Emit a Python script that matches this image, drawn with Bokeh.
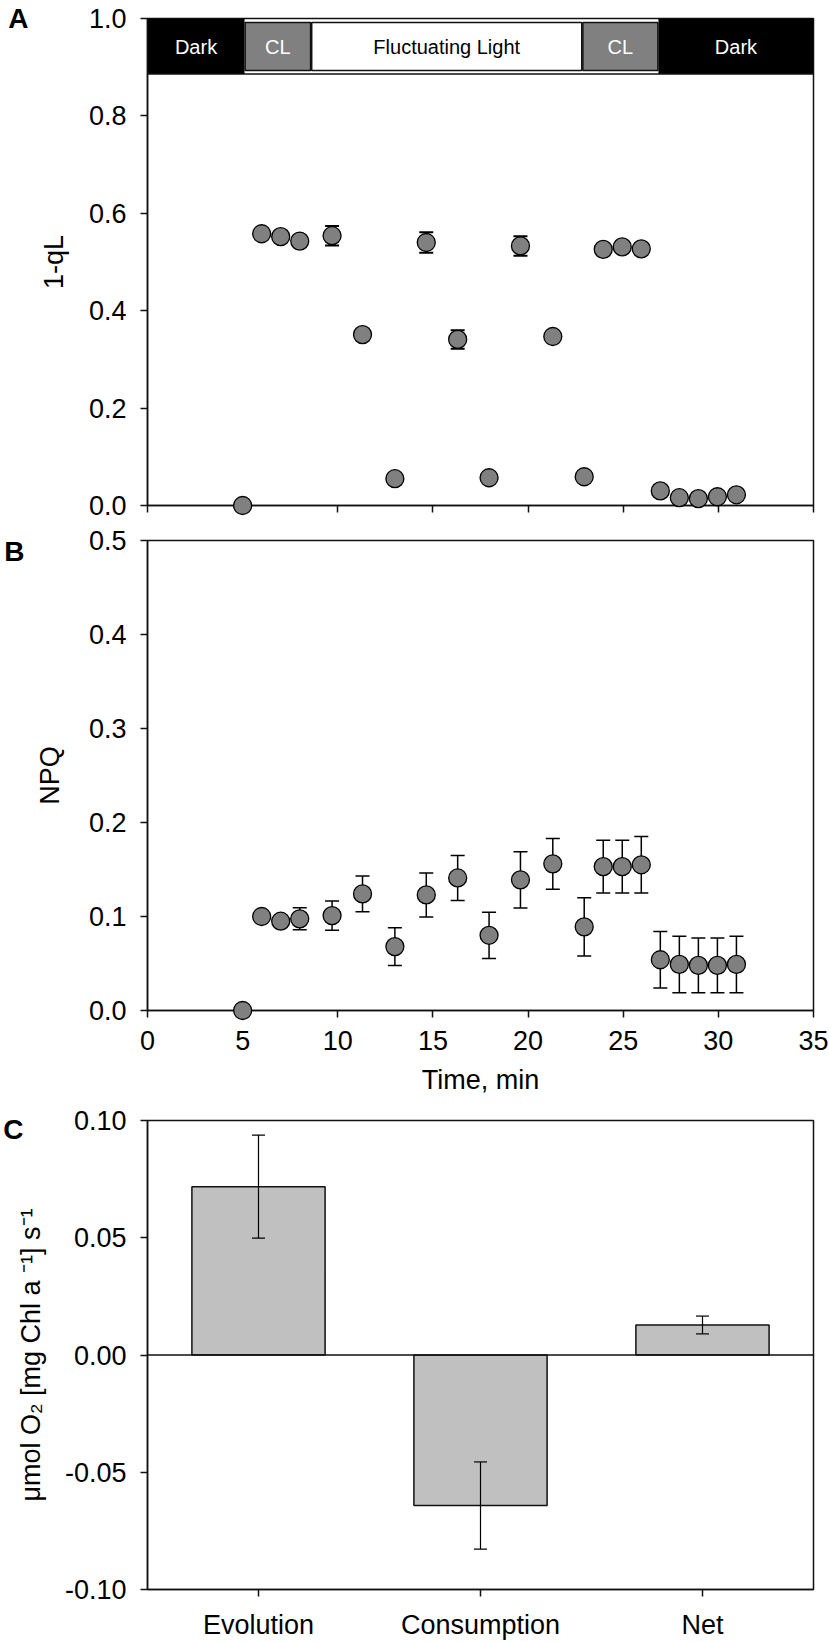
from bokeh.plotting import figure
from bokeh.models import (Range1d, FactorRange, ColumnDataSource, Whisker, TeeHead, LinearAxis,
                          Span, FixedTicker, CustomJSTickFormatter, NumeralTickFormatter)
from bokeh.layouts import column
from bokeh.core.properties import value
from bokeh.embed import file_html
from bokeh.resources import INLINE

# ---------------- data ----------------
time_min = [5.0, 6.0, 7.0, 8.0, 9.7, 11.3, 13.0, 14.65, 16.3, 17.95, 19.6, 21.3,
            22.95, 23.95, 24.95, 25.95, 26.95, 27.95, 28.95, 29.95, 30.95]
one_minus_qL = [0.0, 0.558, 0.552, 0.543, 0.554, 0.351, 0.055, 0.540, 0.341, 0.057, 0.533,
                0.347, 0.059, 0.526, 0.531, 0.527, 0.030, 0.016, 0.014, 0.018, 0.022]
one_minus_qL_err = [0.0, 0.005, 0.005, 0.005, 0.020, 0.005, 0.004, 0.021, 0.019, 0.004, 0.020,
                    0.006, 0.004, 0.006, 0.006, 0.006, 0.004, 0.003, 0.003, 0.003, 0.003]
npq = [0.0, 0.100, 0.095, 0.0975, 0.101, 0.124, 0.068, 0.123, 0.141, 0.080, 0.139,
       0.156, 0.089, 0.153, 0.153, 0.155, 0.054, 0.049, 0.048, 0.048, 0.049]
npq_err = [0.0, 0.004, 0.004, 0.0117, 0.0155, 0.019, 0.020, 0.0234, 0.024, 0.0246, 0.030,
           0.027, 0.031, 0.028, 0.028, 0.030, 0.030, 0.030, 0.029, 0.029, 0.030]

phase_labels = ["Dark", "CL", "Fluctuating Light", "CL", "Dark"]
phase_start = [0.0, 5.1, 8.6, 22.85, 26.85]
phase_end = [5.1, 8.6, 22.85, 26.85, 35.0]

o2_categories = ["Evolution", "Consumption", "Net"]
o2_rate = [0.0718, -0.0642, 0.0128]
o2_err = [0.022, 0.0186, 0.0038]

x_ticks = [0, 5, 10, 15, 20, 25, 30, 35]
qL_ticks = [0.0, 0.2, 0.4, 0.6, 0.8, 1.0]
npq_ticks = [0.0, 0.1, 0.2, 0.3, 0.4, 0.5]
o2_ticks = [-0.10, -0.05, 0.0, 0.05, 0.10]

# ---------------- style ----------------
FONT = "Liberation Sans"
INK = "#111111"
MARK = "#808080"
FS = "27px"


def style(p):
    p.outline_line_color = INK
    p.outline_line_width = 1.5
    p.grid.visible = False
    p.background_fill_color = "white"
    p.border_fill_color = "white"
    for ax in p.axis:
        ax.axis_line_color = INK
        ax.axis_line_width = 1.5
        ax.major_tick_line_color = INK
        ax.major_tick_line_width = 1.5
        ax.major_tick_out = 7
        ax.major_tick_in = 0
        ax.minor_tick_line_color = None
        ax.major_label_text_font = FONT
        ax.major_label_text_font_size = FS
        ax.major_label_text_color = "black"
        ax.major_label_standoff = 14
        ax.axis_label_text_font = FONT
        ax.axis_label_text_font_style = "normal"
        ax.axis_label_text_font_size = FS
        ax.axis_label_text_color = "black"


def letter_axis(p, letter, pos, standoff):
    # panel letter drawn as the single tick label of an outer, line-less axis
    p.extra_y_ranges = {"let": Range1d(0, 1)}
    ax = LinearAxis(y_range_name="let", ticker=FixedTicker(ticks=[pos]),
                    formatter=CustomJSTickFormatter(code="return '%s'" % letter),
                    axis_line_color=None, major_tick_line_color=None,
                    minor_tick_line_color=None, major_tick_in=0, major_tick_out=0,
                    major_label_standoff=standoff, major_label_text_font=FONT,
                    major_label_text_font_style="bold", major_label_text_font_size="28px",
                    major_label_text_color="black")
    p.add_layout(ax, "left")


def errbars(p, xs, ys, es, head, width, level):
    src = ColumnDataSource(dict(x=xs, up=[a + b for a, b in zip(ys, es)],
                                lo=[a - b for a, b in zip(ys, es)]))
    w = Whisker(source=src, base="x", upper="up", lower="lo", line_color="black",
                line_width=width,
                upper_head=TeeHead(size=head, line_color="black", line_width=width),
                lower_head=TeeHead(size=head, line_color="black", line_width=width))
    w.level = level
    p.add_layout(w)


# ---------------- panel A ----------------
pA = figure(width=829, height=524, output_backend="svg", toolbar_location=None,
            x_range=Range1d(0, 35), y_range=Range1d(0, 1.0),
            min_border_left=139, min_border_right=16, min_border_top=18, min_border_bottom=19)
style(pA)
pA.xaxis.ticker = FixedTicker(ticks=x_ticks)
pA.xaxis.formatter = CustomJSTickFormatter(code="return ''")
pA.xaxis.major_label_standoff = 0
pA.xaxis.major_label_text_font_size = "1px"
pA.yaxis.ticker = FixedTicker(ticks=qL_ticks)
pA.yaxis.formatter = NumeralTickFormatter(format="0.0")
pA.yaxis.axis_label = "1-qL"
pA.yaxis.axis_label_standoff = 17
letter_axis(pA, "A", 0.999, 7)

fills = {"Dark": "black", "CL": "#808080", "Fluctuating Light": "white"}
txt = {"Dark": "white", "CL": "white", "Fluctuating Light": "black"}
for lab, s, e in zip(phase_labels, phase_start, phase_end):
    if lab == "Dark":
        pA.quad(left=s, right=e, bottom=0.886, top=1.0, fill_color="black", line_color=None)
    else:
        pA.quad(left=s + 0.03, right=e - 0.03, bottom=0.893, top=0.992,
                fill_color=fills[lab], line_color=INK, line_width=1.5)
pA.segment(x0=[0], y0=[0.886], x1=[35], y1=[0.886], line_color=INK, line_width=1.5)
pA.text(x=[(s + e) / 2 for s, e in zip(phase_start, phase_end)], y=[0.941] * 5,
        text=phase_labels, text_color=[txt[l] for l in phase_labels],
        text_font=value(FONT), text_font_size="20px", text_align="center",
        text_baseline="middle")

errbars(pA, time_min, one_minus_qL, one_minus_qL_err, 14, 2.0, "underlay")
pA.scatter(time_min, one_minus_qL, size=18, fill_color=MARK, line_color="black",
           line_width=1.3, level="overlay")

# ---------------- panel B ----------------
pB = figure(width=829, height=581, output_backend="svg", toolbar_location=None,
            x_range=Range1d(0, 35), y_range=Range1d(0, 0.5),
            min_border_left=143, min_border_right=16, min_border_top=16, min_border_bottom=95)
style(pB)
pB.xaxis.ticker = FixedTicker(ticks=x_ticks)
pB.xaxis.formatter = NumeralTickFormatter(format="0")
pB.xaxis.axis_label = "Time, min"
pB.xaxis.major_label_standoff = 13
pB.xaxis.axis_label_standoff = 12
pB.yaxis.ticker = FixedTicker(ticks=npq_ticks)
pB.yaxis.formatter = NumeralTickFormatter(format="0.0")
pB.yaxis.axis_label = "NPQ"
pB.yaxis.axis_label_standoff = 21
letter_axis(pB, "B", 0.9766, 7)

errbars(pB, time_min, npq, npq_err, 14, 1.5, "underlay")
pB.scatter(time_min, npq, size=18, fill_color=MARK, line_color="black",
           line_width=1.3, level="overlay")

# ---------------- panel C ----------------
pC = figure(width=829, height=537, output_backend="svg", toolbar_location=None,
            x_range=FactorRange(factors=o2_categories), y_range=Range1d(-0.10, 0.10),
            min_border_left=143, min_border_right=14, min_border_top=15, min_border_bottom=52)
style(pC)
pC.yaxis.ticker = FixedTicker(ticks=o2_ticks)
pC.yaxis.formatter = NumeralTickFormatter(format="0.00")
pC.yaxis.axis_label = "μmol O₂ [mg Chl a ⁻¹] s⁻¹"
pC.yaxis.axis_label_standoff = 16
pC.xaxis.major_label_standoff = 13
letter_axis(pC, "C", 0.981, -11)

pC.vbar(x=o2_categories, top=o2_rate, width=0.6, fill_color="#c0c0c0",
        line_color=INK, line_width=1.5)
pC.add_layout(Span(location=0, dimension="width", line_color=INK, line_width=1.5))
errbars(pC, o2_categories, o2_rate, o2_err, 13, 1.2, "overlay")

layout = column(pA, pB, pC, spacing=0)
open("out.html", "w").write(file_html(layout, INLINE))
